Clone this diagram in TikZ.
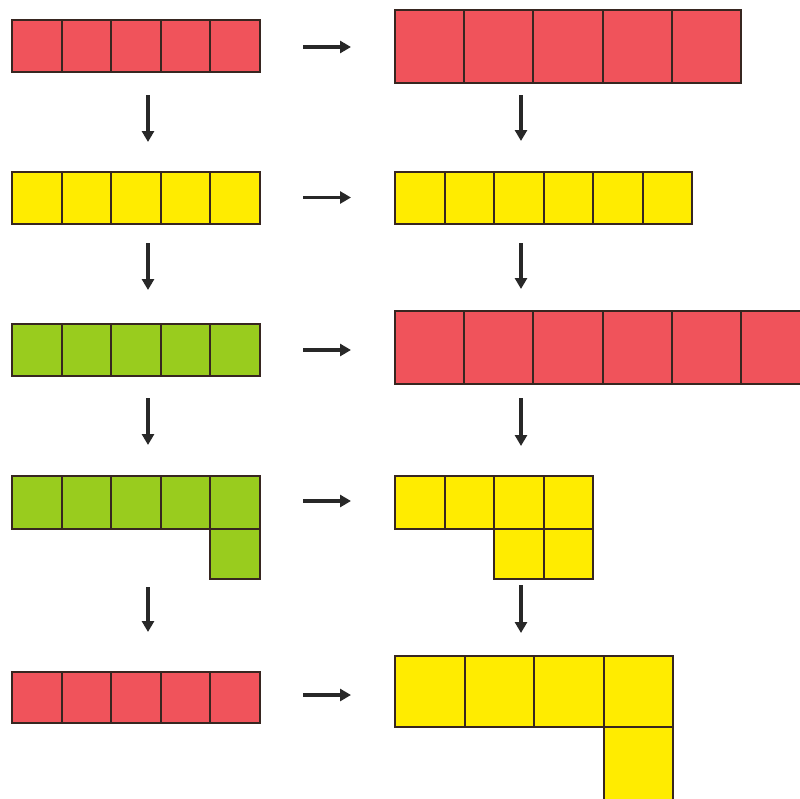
\documentclass[tikz,border=0pt]{standalone}
\usetikzlibrary{arrows.meta}
\definecolor{cred}{RGB}{240,83,91}
\definecolor{cyel}{RGB}{255,236,0}
\definecolor{cgrn}{RGB}{153,204,30}
\definecolor{edgec}{RGB}{55,38,32}
\definecolor{arrc}{RGB}{40,40,40}
\begin{document}
\begin{tikzpicture}[x=1pt,y=-1pt,
  sq/.style={draw=edgec, line width=2pt, inner sep=0pt, outer sep=0pt, anchor=north west},
  small/.style={sq, minimum width=49.6pt, minimum height=51.5pt},
  big/.style={sq, minimum width=69.3pt, minimum height=72pt},
  arr/.style={draw=arrc, line width=3.4pt, -{Triangle[length=11pt,width=12pt]}}]
\useasboundingbox (0,0) rectangle (800,798);
\clip (0,0) rectangle (800,798);
% Row 1
\foreach \i in {0,...,4} \node[small, fill=cred] (aL\i) at ({12+49.6*\i},20) {};
\foreach \i in {0,...,4} \node[big, fill=cred, minimum height=73pt] (aR\i) at ({395+69.2*\i},10) {};
% Row 2
\foreach \i in {0,...,4} \node[small, fill=cyel] (bL\i) at ({12+49.6*\i},172) {};
\foreach \i in {0,...,5} \node[small, fill=cyel] (bR\i) at ({395+49.5*\i},172) {};
% Row 3
\foreach \i in {0,...,4} \node[small, fill=cgrn, minimum height=52pt] (cL\i) at ({12+49.6*\i},324) {};
\foreach \i in {0,...,5} \node[big, fill=cred, minimum height=73pt] (cR\i) at ({395+69.2*\i},311) {};
% Row 4
\foreach \i in {0,...,4} \node[small, fill=cgrn, minimum height=52.5pt] (dL\i) at ({12+49.6*\i},476) {};
\node[small, fill=cgrn, minimum height=50pt] (dL5) at (210.4,528.5) {};
\foreach \i in {0,...,3} \node[small, fill=cyel, minimum height=52.5pt] (dR\i) at ({395+49.5*\i},476) {};
\node[small, fill=cyel, minimum height=50.5pt] (dR4) at (494,528.5) {};
\node[small, fill=cyel, minimum height=50.5pt] (dR5) at (543.5,528.5) {};
% Row 5
\foreach \i in {0,...,4} \node[small, fill=cred, minimum height=51pt] (eL\i) at ({12+49.6*\i},672) {};
\foreach \i in {0,...,3} \node[big, fill=cyel, minimum width=69.5pt, minimum height=71pt] (eR\i) at ({395+69.5*\i},656) {};
\node[big, fill=cyel, minimum width=69.5pt, minimum height=75pt] (eR4) at (603.5,727) {};
% Horizontal arrows
\foreach \n/\y in {1/47,2/197.5,3/350,4/501,5/695} {
  \coordinate (hs\n) at (303,\y);
  \coordinate (he\n) at (351,\y);
  \draw[arr] (hs\n) -- (he\n);
}
% Left vertical arrows
\foreach \n/\a/\b in {1/95/142,2/243/290,3/398/445,4/587/632} {
  \coordinate (ls\n) at (148,\a);
  \coordinate (le\n) at (148,\b);
  \draw[arr] (ls\n) -- (le\n);
}
% Right vertical arrows
\foreach \n/\a/\b in {1/95/141,2/243/289,3/398/446,4/585/633} {
  \coordinate (rs\n) at (521,\a);
  \coordinate (re\n) at (521,\b);
  \draw[arr] (rs\n) -- (re\n);
}
\end{tikzpicture}
\end{document}
